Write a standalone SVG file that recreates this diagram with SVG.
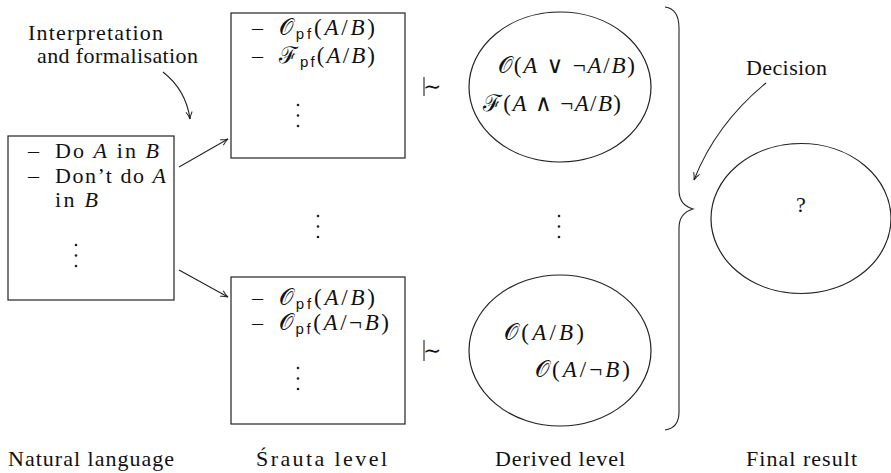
<svg xmlns="http://www.w3.org/2000/svg" width="891" height="473" viewBox="0 0 891 473" font-family="'Liberation Serif', 'Times New Roman', 'DejaVu Serif', serif">
<style>
text{font-family:'Liberation Serif','Times New Roman','DejaVu Serif',serif;font-size:22px;fill:#111}
.m{font-size:23px}
.i{font-style:italic}
.sf{font-family:'Liberation Sans','DejaVu Sans',sans-serif;font-size:15px;font-style:normal}
.cal{font-family:'DejaVu Serif','Noto Sans',serif}
.sym{font-family:'DejaVu Serif',serif}
.mid{text-anchor:middle}
.box{fill:#fff;stroke:#222;stroke-width:1.2}
.ln{fill:none;stroke:#222;stroke-width:1.1}
.dot{fill:#222}
</style>
<defs>
<marker id="ah" viewBox="0 0 10 10" refX="9" refY="5" markerWidth="9" markerHeight="9" markerUnits="userSpaceOnUse" orient="auto">
<path d="M1,1.5 Q5,4 9,5 Q5,6 1,8.5" fill="none" stroke="#222" stroke-width="1.1"/>
</marker>
</defs>

<g id="label-interp">
<text x="28" y="40" textLength="135" lengthAdjust="spacing">Interpretation</text>
<text x="37" y="63" textLength="161" lengthAdjust="spacing">and formalisation</text>
</g>

<g id="natural">
<rect class="box" x="8" y="136" width="166" height="164"/>
<text x="28" y="158">–</text><text x="55" y="158" textLength="104" lengthAdjust="spacing">Do <tspan class="i">A</tspan> in <tspan class="i">B</tspan></text>
<text x="28" y="183">–</text><text x="55" y="183" textLength="111" lengthAdjust="spacing">Don’t do <tspan class="i">A</tspan></text>
<text x="55" y="207" textLength="43" lengthAdjust="spacing">in <tspan class="i">B</tspan></text>
<circle class="dot" cx="76" cy="245" r="1.3"/><circle class="dot" cx="76" cy="255.5" r="1.3"/><circle class="dot" cx="76" cy="266" r="1.3"/>
</g>

<g id="srauta-top">
<rect class="box" x="231" y="13" width="174" height="145"/>
<text x="252" y="35">–</text><text class="m" x="279" y="35" textLength="96" lengthAdjust="spacing"><tspan class="cal">𝒪</tspan><tspan class="sf" dy="4">pf</tspan><tspan dy="-4">(</tspan><tspan class="i">A</tspan>/<tspan class="i">B</tspan>)</text>
<text x="252" y="63">–</text><text class="m" x="279" y="63" textLength="96" lengthAdjust="spacing"><tspan class="cal">ℱ</tspan><tspan class="sf" dy="4">pf</tspan><tspan dy="-4">(</tspan><tspan class="i">A</tspan>/<tspan class="i">B</tspan>)</text>
<circle class="dot" cx="298" cy="105" r="1.3"/><circle class="dot" cx="298" cy="115.5" r="1.3"/><circle class="dot" cx="298" cy="126" r="1.3"/>
</g>

<g id="srauta-bottom">
<rect class="box" x="231" y="277" width="174" height="147"/>
<text x="252" y="305">–</text><text class="m" x="279" y="305" textLength="96" lengthAdjust="spacing"><tspan class="cal">𝒪</tspan><tspan class="sf" dy="4">pf</tspan><tspan dy="-4">(</tspan><tspan class="i">A</tspan>/<tspan class="i">B</tspan>)</text>
<text x="252" y="330">–</text><text class="m" x="279" y="330" textLength="110" lengthAdjust="spacing"><tspan class="cal">𝒪</tspan><tspan class="sf" dy="4">pf</tspan><tspan dy="-4">(</tspan><tspan class="i">A</tspan>/¬<tspan class="i">B</tspan>)</text>
<circle class="dot" cx="298" cy="368" r="1.3"/><circle class="dot" cx="298" cy="378.5" r="1.3"/><circle class="dot" cx="298" cy="389" r="1.3"/>
</g>

<g id="middle-dots">
<circle class="dot" cx="318" cy="216" r="1.3"/><circle class="dot" cx="318" cy="226.5" r="1.3"/><circle class="dot" cx="318" cy="237" r="1.3"/>
<circle class="dot" cx="559" cy="216" r="1.3"/><circle class="dot" cx="559" cy="226.5" r="1.3"/><circle class="dot" cx="559" cy="237" r="1.3"/>
</g>

<g id="derived-top">
<ellipse class="box" cx="560" cy="87" rx="91" ry="75"/>
<text class="m" x="498" y="73" textLength="137" lengthAdjust="spacing"><tspan class="cal">𝒪</tspan>(<tspan class="i">A</tspan> <tspan class="sym">∨</tspan> ¬<tspan class="i">A</tspan>/<tspan class="i">B</tspan>)</text>
<text class="m" x="483" y="111" textLength="138" lengthAdjust="spacing"><tspan class="cal">ℱ</tspan>(<tspan class="i">A</tspan> <tspan class="sym">∧</tspan> ¬<tspan class="i">A</tspan>/<tspan class="i">B</tspan>)</text>
</g>

<g id="derived-bottom">
<ellipse class="box" cx="560" cy="350.5" rx="91" ry="75.5"/>
<text class="m" x="504" y="340" textLength="80" lengthAdjust="spacing"><tspan class="cal">𝒪</tspan>(<tspan class="i">A</tspan>/<tspan class="i">B</tspan>)</text>
<text class="m" x="535" y="377" textLength="95" lengthAdjust="spacing"><tspan class="cal">𝒪</tspan>(<tspan class="i">A</tspan>/¬<tspan class="i">B</tspan>)</text>
</g>

<g id="final">
<ellipse class="box" cx="801" cy="218.5" rx="90" ry="75"/>
<text x="801" y="212" class="mid">?</text>
</g>

<g id="decision-label">
<text x="746" y="75" textLength="81" lengthAdjust="spacing">Decision</text>
</g>

<g id="connectors">
<path class="ln" d="M163,72 Q186,90 190,119" marker-end="url(#ah)"/>
<line class="ln" x1="179" y1="167" x2="228" y2="139" marker-end="url(#ah)"/>
<line class="ln" x1="179" y1="270" x2="228" y2="297" marker-end="url(#ah)"/>
<path class="ln" d="M766,83 Q716,124 694,180" marker-end="url(#ah)"/>
<line class="ln" x1="424" y1="77" x2="424" y2="96"/>
<text x="423" y="94" class="sym" style="font-size:22px">∼</text>
<line class="ln" x1="424" y1="340" x2="424" y2="361"/>
<text x="423" y="358" class="sym" style="font-size:22px">∼</text>
<path class="ln" d="M665,7 Q679,9 679,28 L679,190 Q679,205 693,209 Q679,213 679,228 L679,412 Q679,428 665,430"/>
</g>

<g id="bottom-labels">
<text x="8" y="466" textLength="166" lengthAdjust="spacing">Natural language</text>
<text x="256" y="466" textLength="131" lengthAdjust="spacing">Śrauta level</text>
<text x="560" y="466" class="mid" textLength="130" lengthAdjust="spacing">Derived level</text>
<text x="746" y="466" textLength="111" lengthAdjust="spacing">Final result</text>
</g>
</svg>
